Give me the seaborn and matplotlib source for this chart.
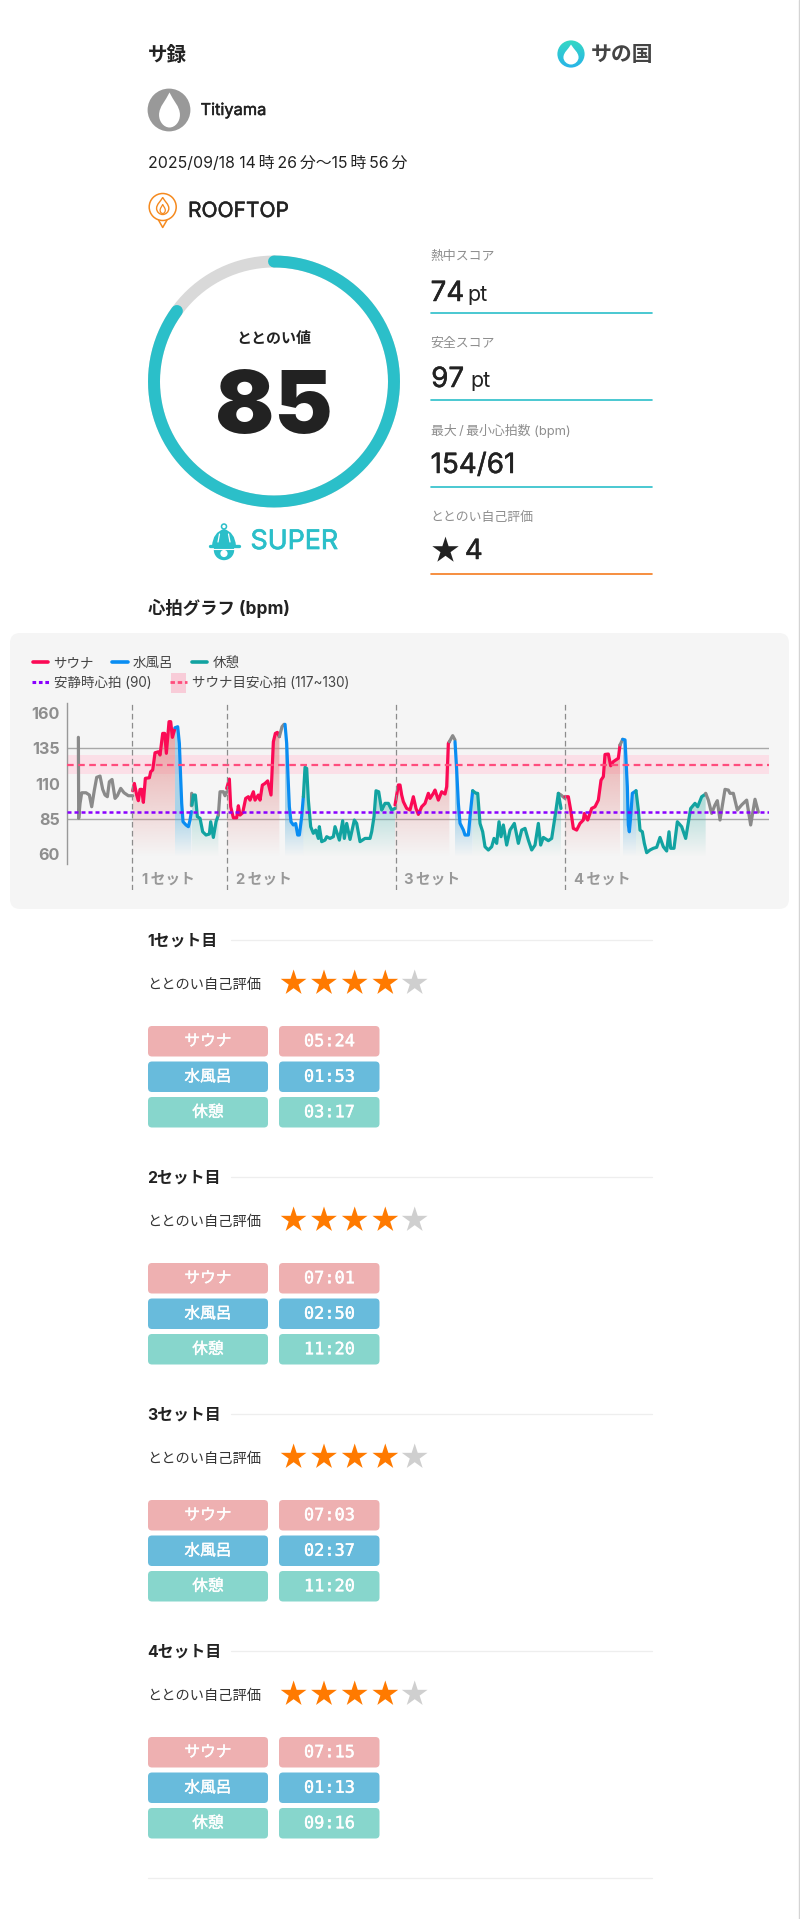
import matplotlib
matplotlib.use("Agg")
import matplotlib.pyplot as plt
import matplotlib.patheffects as pe
import numpy as np
import pandas as pd
import seaborn as sns
from matplotlib.colors import to_rgb
from matplotlib.patches import Circle, FancyBboxPatch, PathPatch, Rectangle
from matplotlib.path import Path

sns.set_theme(style="white")
plt.rcParams['font.family'] = ['Inter', 'Noto Sans CJK JP', 'DejaVu Sans']

# ========== Data ==========

# heart rate per phase: t = elapsed samples, hr = bpm
pre_t = [0, 1, 5, 10, 23, 33, 40, 48, 55, 65, 73, 80, 87, 93, 101, 110, 117, 127, 137, 150, 163]
pre_hr = [142.8, 85.5, 96, 103.6, 103.6, 102, 93.7, 105.5, 114.5, 115.4, 106, 102, 100.8, 111.4, 113, 99.6, 101.5, 106.7, 103.6, 101.5, 101.5]

sauna1_t = [163, 168, 175, 180, 185, 190, 195, 201, 213, 217, 223, 230, 240, 245, 253, 259, 264, 272, 277, 282, 290]
sauna1_hr = [105, 110.2, 102, 98, 106, 106, 96.8, 113.8, 114.2, 118.5, 119.7, 131.9, 132.6, 130.3, 145.6, 145.6, 131.5, 153.9, 153.9, 142.8, 149.2]
cold1_t = [290, 298, 303, 306, 310, 314, 323, 330, 335, 339]
cold1_hr = [149.6, 150.3, 138.5, 119.7, 96.1, 83.1, 80.8, 79.6, 84.3, 90.2]
gap1_t = [339, 340]
gap1_hr = [94.4, 103.2]
rest1_t = [341, 345, 351, 357, 365, 373, 383, 393, 397, 405, 413, 420]
rest1_hr = [94.9, 102, 102, 86.7, 85.5, 76, 73.7, 74.4, 83.1, 72, 83.1, 87.8]
after1_t = [420, 425, 435, 440, 445]
after1_hr = [87.8, 104.3, 104.3, 101.5, 104.3]

sauna2_t = [445, 453, 457, 465, 475, 480, 485, 493, 502, 510, 515, 525, 530, 540, 545, 552, 560, 568, 578, 585, 591, 597, 603]
sauna2_hr = [106.7, 113.3, 93.7, 85.9, 85.9, 94.4, 87.8, 89.5, 99.6, 100.8, 98.4, 104.3, 98.4, 102, 98.4, 109, 110.2, 112, 102, 139.7, 145.6, 146.3, 143.3]
after2_t = [603, 611, 617]
after2_hr = [143.3, 150.3, 152]
cold2_t = [620, 625, 629, 633, 638, 645, 652, 658, 663, 670, 675]
cold2_hr = [152, 138.5, 115, 93.7, 83.1, 80.8, 81.8, 73.7, 73.7, 86.7, 100.8]
rest2_t = [675, 680, 685, 690, 697, 705, 712, 720, 723, 730, 740, 745, 755, 765, 770, 783, 793, 798, 805, 815, 828, 835, 845, 860, 875, 880, 887, 893, 901, 910, 915, 920, 930, 940, 950]
rest2_hr = [100.8, 121.6, 120.8, 98.4, 79.6, 74.9, 77.2, 71.3, 79.6, 69, 70.1, 72.5, 71.3, 72.5, 79.6, 70.1, 83.8, 71.3, 81.9, 70.6, 84.3, 81.9, 69, 71.3, 71.3, 76, 86.7, 105, 104.3, 91.4, 93.7, 96.1, 96.1, 91.4, 92.5]

sauna3_t = [950, 960, 965, 970, 975, 985, 995, 1005, 1013, 1020, 1030, 1040, 1050, 1055, 1065, 1070, 1080, 1090, 1100, 1105, 1110, 1113]
sauna3_hr = [94.9, 109.1, 109.1, 102, 97.3, 92.5, 91.4, 100.8, 92.5, 88.3, 93.7, 96.1, 103.2, 99.6, 103.2, 105.5, 98.4, 104.3, 102.7, 107.9, 138.5, 139.7]
after3_t = [1113, 1123, 1130]
after3_hr = [139.7, 144, 140.9]
cold3_t = [1130, 1135, 1140, 1145, 1155, 1160, 1170, 1177, 1183]
cold3_hr = [139.7, 119.7, 96.1, 82, 77.3, 73.7, 73.7, 91.4, 105]
rest3_t = [1183, 1193, 1198, 1205, 1213, 1220, 1230, 1240, 1247, 1255, 1262, 1268, 1275, 1285, 1295, 1308, 1320, 1330, 1340, 1350, 1360, 1370, 1380, 1387, 1395, 1410, 1420, 1430, 1440, 1448]
rest3_hr = [105, 103.2, 103.2, 81.9, 76, 65.4, 63.1, 65.4, 71.3, 67.8, 83.1, 72.5, 80.8, 66.6, 77.2, 81.9, 67.8, 77.2, 78.4, 70.1, 63.1, 66.6, 81.9, 66.6, 72, 69.7, 71.3, 86.7, 103.2, 92.5]
gap3_t = [1440, 1448, 1460]
gap3_hr = [103.2, 102, 99.6]

sauna4_t = [1460, 1470, 1477, 1485, 1495, 1505, 1515, 1518, 1528, 1540, 1550, 1560, 1568, 1575, 1580, 1590, 1597, 1605, 1620, 1625]
sauna4_hr = [100.8, 100.8, 91.4, 78.4, 77.2, 81.9, 84.3, 88.9, 84.3, 92.5, 93.7, 98.4, 112.5, 115, 130.7, 131, 122.7, 125.6, 128, 137.4]
after4_t = [1625, 1633]
after4_hr = [137.4, 141.4]
cold4_t = [1633, 1640, 1647, 1650, 1653, 1657, 1662, 1673]
cold4_hr = [141.4, 141, 107.9, 80.8, 76, 86.7, 103.2, 105]
rest4_t = [1673, 1680, 1685, 1692, 1698, 1705, 1715, 1725, 1735, 1745, 1755, 1765, 1772, 1777, 1787, 1797, 1810, 1822, 1837, 1850, 1858, 1870, 1882]
rest4_hr = [105, 91.4, 77.2, 76, 67.8, 61.2, 63.1, 64.3, 65, 72, 65.4, 62.4, 76, 64.3, 64.3, 83.1, 79.6, 71.3, 92.5, 96.1, 93.7, 100.8, 102.7]
post_t = [1882, 1890, 1900, 1910, 1917, 1925, 1940, 1950, 1955, 1965, 1977, 1990, 2005, 2017, 2030, 2040]
post_hr = [103.2, 98.4, 89, 95, 98, 84.3, 106, 105.5, 103.2, 103.2, 91.4, 95, 98.4, 80.8, 99, 89.9]

set_starts = [162, 445, 952, 1460]
set_label_starts = [190, 473, 978, 1488]
y_ticks = [60, 85, 110, 135, 160]
grid_levels = [85, 135]
rest_hr = 90
target_low = 117
target_high = 130
target_mid = 123.3

score = 85
set_names = ['1セット目', '2セット目', '3セット目', '4セット目']
set_ratings = [4, 4, 4, 4]
phase_names = ['サウナ', '水風呂', '休憩']
set_times = [
    ['05:24', '01:53', '03:17'],
    ['07:01', '02:50', '11:20'],
    ['07:03', '02:37', '11:20'],
    ['07:15', '01:13', '09:16'],
]

# ========== Colors ==========

RED = '#fb0a55'
BLUE = '#0a8df2'
TEAL = '#12a3a1'
GRAY = '#8a8a8a'
CYAN = '#2bbfc9'
ORANGE = '#ff7a00'
INK = '#222222'
PILL_COLORS = ['#eeb0b1', '#68bbdc', '#87d6cc']

# ========== Helpers ==========

def medium(color, width=0.35):
    """Inter has no medium weight here, thicken with a stroke"""
    return [pe.withStroke(linewidth=width, foreground=color)]

def drop_path(cx, cy, w, h):
    """Droplet outline, page pixels, y down"""
    pts = [(0, -1), (0.25, -0.55), (0.72, -0.2), (0.72, 0.28),
           (0.72, 0.68), (0.38, 1), (0, 1),
           (-0.38, 1), (-0.72, 0.68), (-0.72, 0.28),
           (-0.72, -0.2), (-0.25, -0.55), (0, -1)]
    verts = [(cx + x * w, cy + y * h) for x, y in pts]
    codes = [Path.MOVETO] + [Path.CURVE4] * 12
    return Path(verts, codes)

def fade_fill(ax, t, hr, color, top_hr, top_alpha, bottom_hr=58.3):
    """Vertical fade under one heart rate segment"""
    poly = ax.fill_between(t, hr, bottom_hr, color='none', linewidth=0)
    levels = np.linspace(160, bottom_hr, 200)
    grad = np.zeros((200, 2, 4))
    grad[:, :, :3] = to_rgb(color)
    grad[:, :, 3] = (top_alpha * np.clip((levels - bottom_hr) / (top_hr - bottom_hr), 0, 1))[:, None]
    img = ax.imshow(grad, extent=(t[0], t[-1], bottom_hr, 160), aspect='auto',
                    origin='upper', zorder=2, interpolation='bilinear')
    img.set_clip_path(poly.get_paths()[0], ax.transData)

def pill(ax, x, y, w, h, color, label, **kw):
    ax.add_patch(FancyBboxPatch((x + 4, y + 4), w - 8, h - 8, boxstyle='round,pad=4,rounding_size=4',
                                facecolor=color, edgecolor='none'))
    ax.text(x + w / 2, y + h / 2, label, color='white', ha='center', va='center',
            path_effects=medium('white', 0.3), **kw)

# ========== Page ==========

fig = plt.figure(figsize=(8, 19.19), dpi=100, facecolor='white')
page = fig.add_axes([0, 0, 1, 1])
page.set_xlim(0, 800)
page.set_ylim(1919, 0)
page.axis('off')

page.plot([799.4, 799.4], [0, 1919], color='#d4d4d4', lw=1)

page.text(147.5, 55.5, 'サ録', fontsize=14, fontweight='bold', color=INK, va='center')

# logo
logo_grad = np.zeros((60, 2, 3))
logo_grad[:] = np.linspace(to_rgb('#35d8c4'), to_rgb('#28b4e8'), 60)[:, None, :]
logo_img = page.imshow(logo_grad, extent=(557, 585, 68, 40), aspect='auto', zorder=2)
logo_clip = Circle((571, 54), 13.6, transform=page.transData)
logo_img.set_clip_path(logo_clip)
page.add_patch(PathPatch(drop_path(571, 54.5, 10.5, 10), facecolor='white', edgecolor='none', zorder=3))
page.text(622.5, 54.5, 'サの国', fontsize=15, fontweight='bold', color='#444444', ha='center', va='center')

# user
page.add_patch(Circle((169, 110), 21.4, facecolor='#999999', edgecolor='none'))
page.add_patch(PathPatch(drop_path(169.5, 110, 14.5, 17.5), facecolor='white', edgecolor='none'))
page.text(200.5, 110.5, 'Titiyama', fontsize=11.8, color=INK, va='center', path_effects=medium(INK))
page.text(147.5, 163, '2025/09/18 14\u2009時\u200926\u2009分〜15\u2009時\u200956\u2009分', fontsize=11.45, color=INK, va='center')

# place
page.add_patch(Circle((162.7, 207), 13.5, facecolor='none', edgecolor='#f58a1f', lw=1.1))
page.plot([158.5, 162.7, 167], [220, 227.5, 220], color='#f58a1f', lw=1.1)
page.add_patch(PathPatch(drop_path(162.7, 206, 8.5, 8.5), facecolor='none', edgecolor='#f58a1f', lw=1))
page.add_patch(PathPatch(drop_path(162.7, 209, 3.6, 4.5), facecolor='none', edgecolor='#f58a1f', lw=0.9))
page.text(188, 211, 'ROOFTOP', fontsize=15.1, color=INK, va='center', path_effects=medium(INK))

# score ring
ring_x = 274
ring_y = 381.5
ring_r = 120
theta = np.linspace(0, 2 * np.pi, 361)
page.plot(ring_x + ring_r * np.sin(theta), ring_y - ring_r * np.cos(theta), color='#d9d9d9', lw=8.6)
theta = np.linspace(0, 2 * np.pi * score / 100, 307)
page.plot(ring_x + ring_r * np.sin(theta), ring_y - ring_r * np.cos(theta), color=CYAN, lw=8.6, solid_capstyle='round')
page.text(ring_x, 339, 'ととのい値', fontsize=10.8, fontweight='bold', color=INK, ha='center', va='center')
page.text(ring_x, 410, str(score), fontsize=63, fontweight='black', color=INK, ha='center', va='center')

# bell
page.add_patch(Circle((224, 526.5), 2.5, facecolor='none', edgecolor=CYAN, lw=1.1))
page.add_patch(PathPatch(Path([(212, 546), (213, 532), (224, 529), (224, 529), (235, 532), (236, 546), (212, 546)],
                              [Path.MOVETO, Path.CURVE3, Path.CURVE3, Path.LINETO, Path.CURVE3, Path.CURVE3, Path.CLOSEPOLY]),
                         facecolor=CYAN, edgecolor='none'))
page.add_patch(Circle((224, 550), 10.2, facecolor=CYAN, edgecolor='none'))
page.plot([219.5, 218], [534, 542], color='white', lw=0.9)
page.plot([228.5, 230], [534, 542], color='white', lw=0.9)
page.plot([209.5, 238.5], [546, 546], color=CYAN, lw=2.4, solid_capstyle='round')
page.plot([213, 235], [548.5, 548.5], color='white', lw=0.8)
page.add_patch(Circle((224, 553.5), 3.6, facecolor='white', edgecolor='none'))
page.text(250.5, 542, 'SUPER', fontsize=19.3, color=CYAN, va='center', path_effects=medium(CYAN, 0.5))

# right column
metric_rows = [
    ('熱中スコア', 257, 313, CYAN),
    ('安全スコア', 343.5, 400, CYAN),
    ('最大\u2009/\u2009最小心拍数 (bpm)', 430.5, 487, CYAN),
    ('ととのい自己評価', 517.5, 573.6, '#f57c1f'),
]
for label, ly, line_y, col in metric_rows:
    page.text(430.6, ly, label, fontsize=9.3, color='#8e8e8e', va='center')
    page.plot([430.6, 652], [line_y, line_y], color=col, lw=1.2)
value_text = dict(fontsize=20, color=INK, va='center', path_effects=medium(INK))
page.text(430.6, 294, '74', **value_text)
page.text(467.3, 295, 'pt', fontsize=15.5, color=INK, va='center')
page.text(431.2, 380, '97', **value_text)
page.text(470.5, 381, 'pt', fontsize=15.5, color=INK, va='center')
page.text(430.6, 466, '154/61', **value_text)
page.scatter([444.6], [550], marker='*', s=400, color=INK, linewidths=0)
page.text(464.8, 552, '4', **value_text)

page.text(147.5, 608, '心拍グラフ (bpm)', fontsize=12.5, fontweight='bold', color=INK, va='center')

# chart card
page.add_patch(FancyBboxPatch((20, 643), 759, 256, boxstyle='round,pad=10,rounding_size=10',
                              facecolor='#f5f5f5', edgecolor='none'))

# chart legend
legend_text = dict(fontsize=9.7, color='#444444', va='center')
page.plot([33, 48], [662, 662], color=RED, lw=2.6, solid_capstyle='round')
page.text(53.5, 663, 'サウナ', **legend_text)
page.plot([112, 128], [662, 662], color=BLUE, lw=2.6, solid_capstyle='round')
page.text(133, 663, '水風呂', **legend_text)
page.plot([192, 207], [662, 662], color=TEAL, lw=2.6, solid_capstyle='round')
page.text(213, 663, '休憩', **legend_text)
page.plot([32, 49], [682, 682], color='#8a00ff', lw=2.2, linestyle=(0, (1.2, 0.9)))
page.text(53.5, 683, '安静時心拍 (90)', **legend_text)
page.add_patch(Rectangle((171, 673), 15, 20, facecolor='#f8ccd8', edgecolor='none'))
page.plot([170, 187], [682, 682], color='#ff4d7d', lw=2, linestyle=(0, (1.6, 1)))
page.text(192, 683, 'サウナ目安心拍 (117~130)', **legend_text)

# set sections
star_x = [293.6, 324, 354.7, 385.3, 414.7]
for i, name in enumerate(set_names):
    top = 941 + i * 237
    page.text(147, top, name, fontsize=11.4, fontweight='bold', color=INK, va='center')
    page.plot([231, 652], [top - 1, top - 1], color='#eeeeee', lw=0.9)
    page.text(147.5, top + 43.5, 'ととのい自己評価', fontsize=10.25, color='#333333', va='center')
    star_colors = [ORANGE if k < set_ratings[i] else '#cfcfcf' for k in range(5)]
    page.scatter(star_x, [top + 42] * 5, marker='*', s=380, c=star_colors, linewidths=0)
    for row in range(3):
        row_y = top + 85 + row * 35.5
        pill(page, 148, row_y, 120, 30.5, PILL_COLORS[row], phase_names[row], fontsize=11.3)
        pill(page, 279, row_y, 100.5, 30.5, PILL_COLORS[row], set_times[i][row],
             fontsize=12.2, family='DejaVu Sans Mono')

page.plot([147.5, 652], [1878, 1878], color='#eeeeee', lw=0.9)

page.set_xlim(0, 800)
page.set_ylim(1919, 0)

# ========== Heart rate chart ==========

chart = fig.add_axes([66.7 / 800, 1 - 890 / 1919, (769 - 66.7) / 800, (890 - 703) / 1919])
chart.patch.set_alpha(0)

segments = [
    (pre_t, pre_hr, GRAY, None),
    (sauna1_t, sauna1_hr, RED, 'sauna'),
    (cold1_t, cold1_hr, BLUE, 'cold'),
    (gap1_t, gap1_hr, GRAY, None),
    (rest1_t, rest1_hr, TEAL, 'rest'),
    (after1_t, after1_hr, GRAY, None),
    (sauna2_t, sauna2_hr, RED, 'sauna'),
    (after2_t, after2_hr, GRAY, None),
    (cold2_t, cold2_hr, BLUE, 'cold'),
    (rest2_t, rest2_hr, TEAL, 'rest'),
    (sauna3_t, sauna3_hr, RED, 'sauna'),
    (after3_t, after3_hr, GRAY, None),
    (cold3_t, cold3_hr, BLUE, 'cold'),
    (gap3_t, gap3_hr, GRAY, None),
    (rest3_t, rest3_hr, TEAL, 'rest'),
    (sauna4_t, sauna4_hr, RED, 'sauna'),
    (after4_t, after4_hr, GRAY, None),
    (cold4_t, cold4_hr, BLUE, 'cold'),
    (rest4_t, rest4_hr, TEAL, 'rest'),
    (post_t, post_hr, GRAY, None),
]
fade_styles = {
    'sauna': ('#e27f7f', 155, 0.72),
    'cold': ('#5fb2dc', 88, 0.5),
    'rest': ('#5cbcb4', 95, 0.42),
}

chart.axhspan(target_low, target_high, color='#fbdfe7', zorder=1, linewidth=0)
for level in grid_levels:
    chart.axhline(level, color='#a8a8a8', lw=1, zorder=1.5)

for t, hr, col, fade in segments:
    if fade:
        fade_col, top_hr, top_alpha = fade_styles[fade]
        fade_fill(chart, t, hr, fade_col, top_hr, top_alpha)
    seg = pd.DataFrame({'t': t, 'hr': hr})
    sns.lineplot(data=seg, x='t', y='hr', color=col, lw=2.3, estimator=None, sort=False,
                 ax=chart, zorder=3, solid_joinstyle='round')

chart.axhline(target_mid, color='#ff4d7d', lw=1.6, linestyle=(0, (3, 2)), zorder=4)
chart.axhline(rest_hr, color='#8a00ff', lw=1.8, linestyle=(0, (1.6, 1.2)), zorder=4)
for x0 in set_starts:
    chart.axvline(x0, color='#8c8c8c', lw=0.9, linestyle=(0, (4.5, 2.7)), zorder=4)
for i, x0 in enumerate(set_label_starts):
    chart.text(x0, 41.8, f'{i + 1}\u2009セット', fontsize=10.6, fontweight='bold', color='#999999', va='center')

chart.set_xlim(-35, 2072)
chart.set_ylim(34.8, 167.1)
chart.set_xlabel('')
chart.set_ylabel('')
chart.set_xticks([])
chart.set_yticks(y_ticks)
chart.set_yticklabels([str(v) for v in y_ticks], fontsize=11.6, fontweight='bold', color='#8e8e8e')
chart.tick_params(axis='y', length=0, pad=5)
for side in ['top', 'right', 'bottom']:
    chart.spines[side].set_visible(False)
chart.spines['left'].set_color('#999999')
chart.spines['left'].set_linewidth(1)
chart.spines['left'].set_bounds(53.2, 167.1)

fig.savefig('out.png', dpi=100)
